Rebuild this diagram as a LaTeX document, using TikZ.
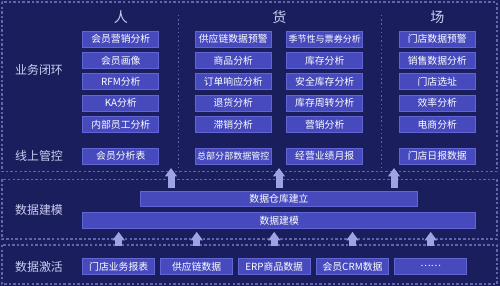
\documentclass[tikz,border=0pt]{standalone}
\usepackage{fontspec}
\newfontfamily\cjk{Noto Sans CJK SC}
\usetikzlibrary{arrows.meta,positioning}
\definecolor{bg}{RGB}{27,30,92}
\definecolor{boxfill}{RGB}{70,74,188}
\definecolor{boxline}{RGB}{98,102,212}
\definecolor{secc}{RGB}{96,102,172}
\definecolor{arrowc}{RGB}{158,163,230}
\definecolor{labelc}{RGB}{202,205,242}

\begin{document}
\begin{tikzpicture}[
    x=0.02cm, y=-0.02cm,
    every node/.style={font=\cjk\fontsize{5.6}{6.5}\selectfont},
    item/.style={
        rectangle, draw=boxline, fill=boxfill, line width=0.5pt, text=white,
        minimum width=1.52cm, minimum height=0.32cm, inner sep=0pt
    },
    longitem/.style={item, font=\cjk\fontsize{5.15}{6}\selectfont},
    srcitem/.style={item, minimum width=1.44cm},
    bar/.style={item, minimum height=0.31cm},
    head/.style={text=labelc, font=\cjk\fontsize{8}{9}\selectfont},
    rowlabel/.style={text=labelc, font=\cjk\fontsize{6.8}{8}\selectfont},
    secline/.style={draw=secc, line width=0.6pt, dash pattern=on 1.4pt off 1.2pt},
    divline/.style={draw=secc, line width=0.6pt, dash pattern=on 0.8pt off 1.6pt},
    uparrow/.style={draw=arrowc, line width=0.14cm,
        -{Triangle[width=0.235cm, length=0.17cm]}}
]

% Background and frame
\fill[bg] (0,0) rectangle (500,286);
\useasboundingbox (0,0) rectangle (500,286);

% Sections
\draw[secline] (2,2) rectangle (497,171.7);
\draw[secline] (2,179.3) rectangle (497,239);
\draw[secline] (2,245) rectangle (497,284);

% Column dividers
\draw[divline] (178.3,15) -- (178.3,168);
\draw[divline] (381.7,15) -- (381.7,168);

% Row labels
\node[rowlabel] (lbA) at (39,70)    {业务闭环};
\node[rowlabel] (lbB) at (39,156)   {线上管控};
\node[rowlabel] (lbC) at (39,210)   {数据建模};
\node[rowlabel] (lbD) at (39,266.7) {数据激活};

% Column heads
\node[head] (hP) at (120.8,17) {人};
\node[head] (hG) at (279.3,17) {货};
\node[head] (hC) at (437.3,17) {场};

% Closed-loop analyses
\foreach \t [count=\i] in {会员营销分析,会员画像,RFM分析,KA分析,内部员工分析}
  \node[item] (p\i) at (120.8,{39+21.4*(\i-1)}) {\t};
\foreach \t [count=\i] in {供应链数据预警,商品分析,订单响应分析,退货分析,滞销分析}
  \node[item] (g\i) at (233.3,{39+21.4*(\i-1)}) {\t};
\node[longitem] (h1) at (324.7,39) {季节性与票券分析};
\foreach \t [count=\i from 2] in {库存分析,安全库存分析,库存周转分析,营销分析}
  \node[item] (h\i) at (324.7,{39+21.4*(\i-1)}) {\t};
\foreach \t [count=\i] in {门店数据预警,销售数据分析,门店选址,效率分析,电商分析}
  \node[item] (s\i) at (437.3,{39+21.4*(\i-1)}) {\t};

% Online control
\node[item]     (cP) at (120.8,156) {会员分析表};
\node[longitem] (cG) at (233.3,156) {总部分部数据管控};
\node[item]     (cH) at (324.7,156) {经营业绩月报};
\node[item]     (cS) at (437.3,156) {门店日报数据};

% Modelling bars
\node[bar, minimum width=5.548cm] (wh)    at (279,198.8) {数据仓库建立};
\node[bar, minimum width=7.86cm]  (model) at (279.2,220.3) {数据建模};

% Data sources
\foreach \t/\x [count=\i] in {门店业务报表/118.7,供应链数据/196.7,ERP商品数据/274.2,会员CRM数据/352.5,……/430.7}
  \node[srcitem] (d\i) at (\x,266.3) {\t};

% Arrows: sources -> modelling
\foreach \i in {1,...,5}
  \draw[uparrow, shorten <=7pt, shorten >=1.9pt] (d\i.north) -- (d\i.north |- model.south);

% Arrows: warehouse -> top sections
\coordinate (t1) at (171,168);
\coordinate (t2) at (279,168);
\coordinate (t3) at (394,168);
\foreach \n in {t1,t2,t3}
  \draw[uparrow, shorten <=1.7pt] (\n |- wh.north) -- (\n);

\end{tikzpicture}
\end{document}
